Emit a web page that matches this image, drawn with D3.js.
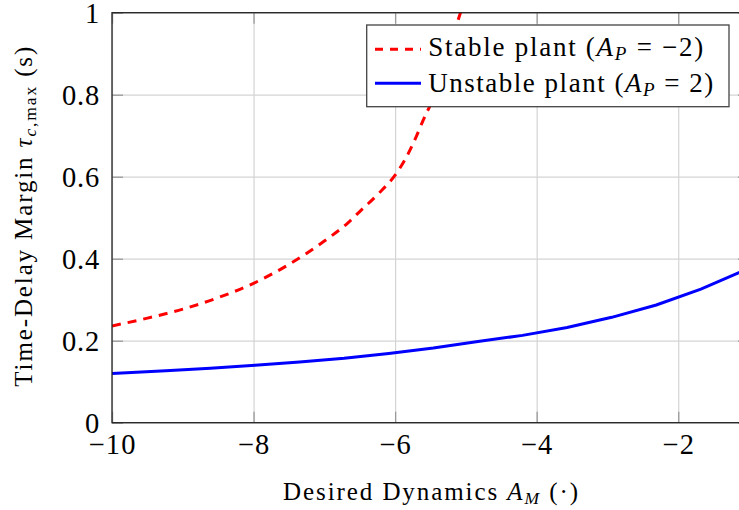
<!DOCTYPE html>
<html>
<head>
<meta charset="utf-8">
<script src="https://cdn.jsdelivr.net/npm/d3@7"></script>
<style>
  body { margin: 0; background: #fff; }
  svg { display: block; }
  text { font-family: "Liberation Serif", "Times New Roman", serif; fill: #000; }
</style>
</head>
<body>
<div id="chart"></div>
<script>
// values
var stableX = [-10, -9.5, -9, -8.5, -8, -7.5, -7, -6.67, -6.5, -6.245, -6, -5.865, -5.745, -5.558, -5.5, -5.3, -5.11, -5.0];
var stableY = [0.236, 0.255, 0.277, 0.305, 0.340, 0.386, 0.443, 0.487, 0.515, 0.557, 0.604, 0.640, 0.681, 0.755, 0.775, 0.875, 0.982, 1.04];
var unstableX = [-10, -9.24, -8.61, -7.98, -7.35, -6.72, -6.09, -5.46, -4.83, -4.2, -3.57, -2.94, -2.31, -1.68, -1.05];
var unstableY = [0.120, 0.127, 0.133, 0.140, 0.148, 0.157, 0.169, 0.182, 0.198, 0.213, 0.232, 0.257, 0.287, 0.326, 0.373];
var xTicks = [-10, -8, -6, -4, -2];
var yTicks = [0, 0.2, 0.4, 0.6, 0.8, 1];

var marginLeft = 112, marginTop = 12.7, w = 637, h = 410;

var svg = d3.select("#chart").append("svg").attr("width", 739).attr("height", 510);

var x = d3.scaleLinear().domain([-10, -1]).range([0, w]);
var y = d3.scaleLinear().domain([0, 1]).range([h, 0]);

var g = svg.append("g").attr("transform", "translate(" + marginLeft + "," + marginTop + ")");

svg.append("defs").append("clipPath").attr("id", "clip")
  .append("rect").attr("width", w).attr("height", h);

// grid
g.append("g").attr("transform", "translate(0," + h + ")")
  .call(d3.axisBottom(x).tickValues(xTicks).tickSize(-h).tickFormat(""))
  .call(function (a) { a.select(".domain").remove(); a.selectAll("line").attr("stroke", "#d4d4d4").attr("stroke-width", 1.2); });
g.append("g")
  .call(d3.axisLeft(y).tickValues(yTicks).tickSize(-w).tickFormat(""))
  .call(function (a) { a.select(".domain").remove(); a.selectAll("line").attr("stroke", "#d4d4d4").attr("stroke-width", 1.2); });

// inner tick marks on all four sides
function ticks(a) {
  a.select(".domain").remove();
  a.selectAll("line").attr("stroke", "#9a9a9a").attr("stroke-width", 1.3);
}
g.append("g").attr("transform", "translate(0," + h + ")")
  .call(d3.axisBottom(x).tickValues(xTicks).tickSize(-11).tickFormat("")).call(ticks);
g.append("g")
  .call(d3.axisTop(x).tickValues(xTicks).tickSize(-11).tickFormat("")).call(ticks);
g.append("g")
  .call(d3.axisLeft(y).tickValues(yTicks).tickSize(-11).tickFormat("")).call(ticks);
g.append("g").attr("transform", "translate(" + w + ",0)")
  .call(d3.axisRight(y).tickValues(yTicks).tickSize(-11).tickFormat("")).call(ticks);

// data lines
var stable = stableX.map(function (d, i) { return [d, stableY[i]]; });
var unstable = unstableX.map(function (d, i) { return [d, unstableY[i]]; });

var lines = g.append("g").attr("clip-path", "url(#clip)");
lines.append("path").datum(stable)
  .attr("fill", "none").attr("stroke", "#ff0000").attr("stroke-width", 3)
  .attr("stroke-dasharray", "9,7")
  .attr("d", d3.line().x(function (d) { return x(d[0]); }).y(function (d) { return y(d[1]); }).curve(d3.curveMonotoneX));
lines.append("path").datum(unstable)
  .attr("fill", "none").attr("stroke", "#0000ff").attr("stroke-width", 3)
  .attr("d", d3.line().x(function (d) { return x(d[0]); }).y(function (d) { return y(d[1]); }));

// box
g.append("rect").attr("width", w).attr("height", h)
  .attr("fill", "none").attr("stroke", "#222").attr("stroke-width", 1.3);

// tick labels
var xl = g.append("g").attr("transform", "translate(0," + h + ")")
  .call(d3.axisBottom(x).tickValues(xTicks).tickSize(0).tickPadding(0));
xl.select(".domain").remove();
xl.selectAll("text").attr("font-size", 28.5).attr("dy", null).attr("y", 31.5)
  .attr("font-family", "Liberation Serif, serif").attr("fill", "#000")
  .attr("letter-spacing", 1.2);

var yl = g.append("g")
  .call(d3.axisLeft(y).tickValues(yTicks).tickSize(0).tickPadding(12).tickFormat(d3.format("")));
yl.select(".domain").remove();
yl.selectAll("text").attr("font-size", 28.5).attr("dy", "0.34em")
  .attr("font-family", "Liberation Serif, serif").attr("fill", "#000")
  .attr("letter-spacing", 0.8);

// axis labels
var xlab = svg.append("text").attr("x", 430.5).attr("y", 500).attr("text-anchor", "middle")
  .attr("font-size", 25).attr("textLength", 295).attr("lengthAdjust", "spacing");
xlab.append("tspan").text("Desired Dynamics ");
xlab.append("tspan").attr("font-style", "italic").text("A");
xlab.append("tspan").attr("font-style", "italic").attr("font-size", 17.5).attr("dy", 4).text("M");
xlab.append("tspan").attr("dy", -4).text("  (·)");

var ylab = svg.append("text").attr("transform", "translate(32,216.7) rotate(-90)")
  .attr("text-anchor", "middle").attr("font-size", 25)
  .attr("textLength", 340).attr("lengthAdjust", "spacing");
ylab.append("tspan").text("Time-Delay Margin ");
ylab.append("tspan").attr("font-style", "italic").text("τ");
ylab.append("tspan").attr("font-style", "italic").attr("font-size", 17.5).attr("dy", 4).text("c");
ylab.append("tspan").attr("font-size", 17.5).text(",max");
ylab.append("tspan").attr("dy", -4).text("  (s)");

// legend
var legend = svg.append("g");
legend.append("rect").attr("x", 366.7).attr("y", 25).attr("width", 362.3).attr("height", 81.7)
  .attr("fill", "#fff").attr("stroke", "#444").attr("stroke-width", 1.3);
var entries = [
  { color: "#ff0000", dash: "8,7", label: "Stable plant (", val: "\u22122", ly: 49.3, ty: 56, len: 275 },
  { color: "#0000ff", dash: null, label: "Unstable plant (", val: "2", ly: 83.3, ty: 92, len: 285 }
];
entries.forEach(function (e) {
  legend.append("line").attr("x1", 375).attr("x2", 421).attr("y1", e.ly).attr("y2", e.ly)
    .attr("stroke", e.color).attr("stroke-width", 3).attr("stroke-dasharray", e.dash);
  var t = legend.append("text").attr("x", 428.3).attr("y", e.ty).attr("font-size", 27)
    .attr("textLength", e.len).attr("lengthAdjust", "spacing");
  t.append("tspan").text(e.label);
  t.append("tspan").attr("font-style", "italic").text("A");
  t.append("tspan").attr("font-style", "italic").attr("font-size", 19).attr("dy", 4).text("P");
  t.append("tspan").attr("dy", -4).text("  =  " + e.val + ")");
});
</script>
</body>
</html>
